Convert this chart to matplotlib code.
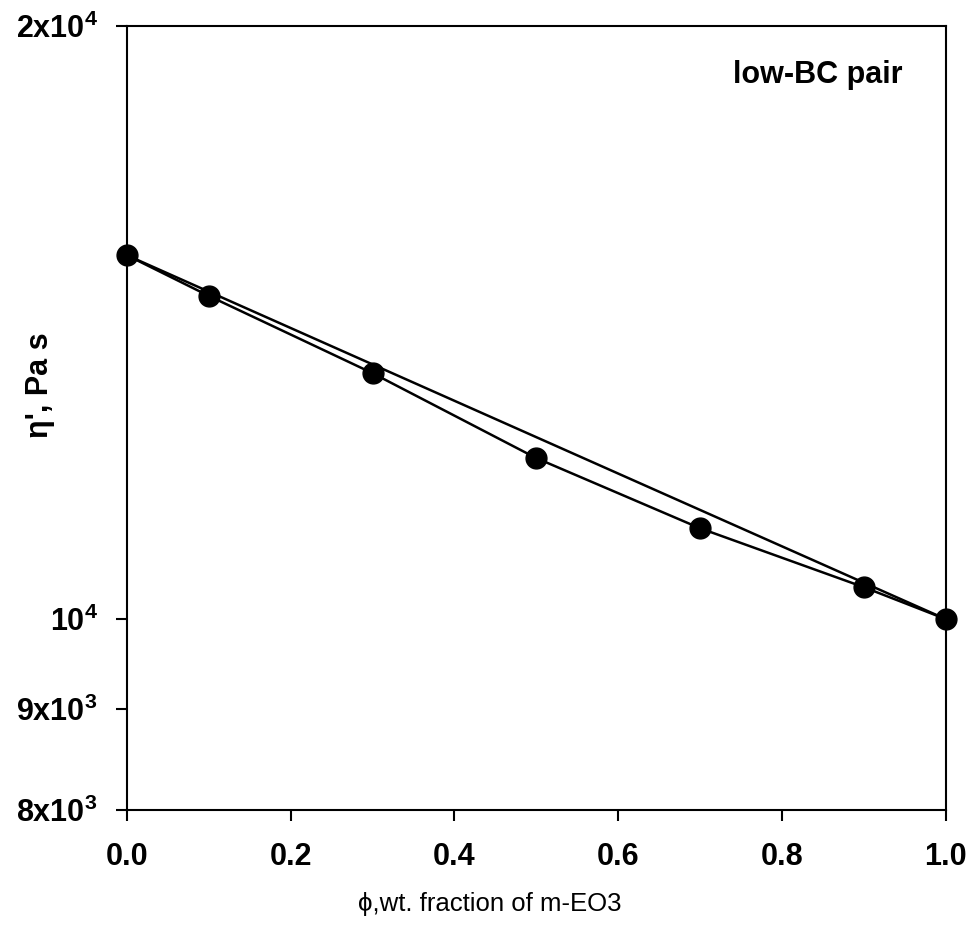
import matplotlib
matplotlib.use("Agg")
import matplotlib.pyplot as plt
from matplotlib.ticker import FixedLocator, FixedFormatter, NullLocator

plt.rcParams['font.family'] = ['Liberation Sans', 'DejaVu Sans']
plt.rcParams['mathtext.fontset'] = 'custom'
plt.rcParams['mathtext.rm'] = 'Liberation Sans:bold'
plt.rcParams['mathtext.it'] = 'Liberation Sans:bold'
plt.rcParams['mathtext.default'] = 'rm'

# measured blend viscosity vs weight fraction
phi = [0.0, 0.1, 0.3, 0.5, 0.7, 0.9, 1.0]
eta = [15300, 14590, 13330, 12070, 11120, 10380, 10000]

# log-additivity line between the pure components
phi_line = [0.0, 1.0]
eta_line = [15300, 10000]

y_ticks = [8000, 9000, 10000, 20000]
y_labels = ['8x10$^3$', '9x10$^3$', '10$^4$', '2x10$^4$']
x_ticks = [0.0, 0.2, 0.4, 0.6, 0.8, 1.0]
x_labels = ['0.0', '0.2', '0.4', '0.6', '0.8', '1.0']

fig = plt.figure(figsize=(9.76, 9.33), dpi=100)
ax = fig.add_axes([0.130, 0.1318, 0.839, 0.8403])

ax.plot(phi_line, eta_line, color='black', linewidth=1.8, clip_on=False)
ax.plot(phi, eta, color='black', linewidth=1.8, marker='o', markersize=15,
        clip_on=False, zorder=3)

ax.set_yscale('log')
ax.set_xlim(0, 1)
ax.set_ylim(8000, 20000)
ax.yaxis.set_major_locator(FixedLocator(y_ticks))
ax.yaxis.set_major_formatter(FixedFormatter(y_labels))
ax.yaxis.set_minor_locator(NullLocator())
ax.set_xticks(x_ticks)
ax.set_xticklabels(x_labels)

ax.tick_params(axis='both', direction='out', length=8, width=1.5,
               labelsize=22)
ax.tick_params(axis='x', pad=15)
ax.tick_params(axis='y', pad=13)
for lab in ax.get_xticklabels() + ax.get_yticklabels():
    lab.set_fontweight('bold')
for s in ax.spines.values():
    s.set_linewidth(1.5)

ax.set_xlabel('ϕ,wt. fraction of m-EO3', fontsize=18.5)
ax.xaxis.set_label_coords(0.443, -0.105)
ax.set_ylabel("η', Pa s", fontsize=22, fontweight='bold')
ax.yaxis.set_label_coords(-0.088, 0.542)

ax.text(0.844, 0.9375, 'low-BC pair', transform=ax.transAxes,
        fontsize=22, fontweight='bold', ha='center', va='center')

fig.savefig('out.png', dpi=100)
